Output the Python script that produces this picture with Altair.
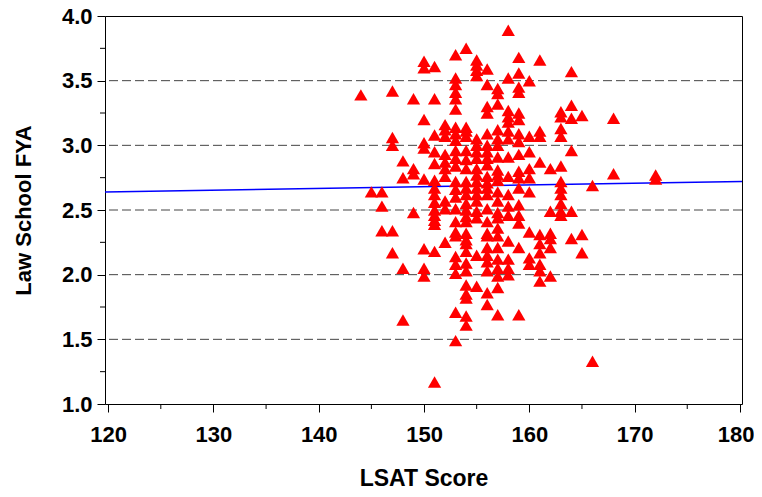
import altair as alt
import pandas as pd

# LSAT score columns and the FYA values for each
lsat_levels = [144, 145, 146, 147, 148, 149, 150, 151, 152, 153, 154, 155, 156,
               157, 158, 159, 160, 161, 162, 163, 164, 165, 166, 168, 172]
fya_groups = [
    [3.39],
    [2.64],
    [2.64, 2.53, 2.34],
    [3.42, 3.06, 3.00, 2.34, 2.17],
    [2.88, 2.75, 2.05, 1.65],
    [3.36, 2.82, 2.78, 2.48],
    [3.65, 3.60, 3.20, 3.02, 2.98, 2.74, 2.20, 2.05, 1.99],
    [3.61, 3.36, 3.08, 2.95, 2.86, 2.73, 2.67, 2.62, 2.56, 2.50, 2.46, 2.42, 2.39, 2.18, 1.17],
    [3.16, 3.12, 3.07, 2.93, 2.87, 2.82, 2.76, 2.57, 2.51, 2.25],
    [3.70, 3.52, 3.47, 3.41, 3.36, 3.28, 3.14, 3.09, 3.04, 2.96, 2.90, 2.84, 2.72, 2.66,
     2.60, 2.51, 2.41, 2.33, 2.30, 2.14, 2.08, 2.01, 1.71, 1.49],
    [3.75, 3.14, 3.11, 3.07, 2.96, 2.89, 2.82, 2.72, 2.67, 2.62, 2.55, 2.50, 2.45, 2.41,
     2.32, 2.27, 2.24, 2.18, 2.09, 2.03, 1.92, 1.85, 1.82, 1.68, 1.61],
    [3.66, 3.62, 3.58, 3.54, 3.05, 3.00, 2.95, 2.90, 2.82, 2.77, 2.72, 2.67, 2.62, 2.57,
     2.49, 2.44, 2.15, 1.91],
    [3.59, 3.47, 3.30, 3.25, 3.09, 3.00, 2.95, 2.90, 2.85, 2.76, 2.71, 2.67, 2.62, 2.51,
     2.41, 2.32, 2.30, 2.21, 2.15, 2.10, 2.03, 1.86, 1.77],
    [3.44, 3.40, 3.32, 3.12, 3.05, 3.00, 2.91, 2.81, 2.77, 2.73, 2.64, 2.57, 2.48, 2.44,
     2.36, 2.30, 2.21, 2.12, 2.05, 1.99, 1.90, 1.69],
    [3.89, 3.52, 3.27, 3.22, 3.18, 3.11, 3.05, 2.91, 2.76, 2.62, 2.53, 2.46, 2.26, 2.12,
     2.05, 2.00],
    [3.68, 3.56, 3.45, 3.41, 3.25, 3.20, 3.09, 3.03, 2.93, 2.80, 2.75, 2.67, 2.54, 2.46,
     2.40, 2.21, 1.69],
    [3.50, 3.07, 2.95, 2.82, 2.75, 2.64, 2.33, 2.13, 2.08],
    [3.66, 3.11, 3.07, 2.87, 2.31, 2.24, 2.17, 2.08, 2.03, 1.95],
    [2.82, 2.49, 2.32, 2.28, 2.21, 1.99],
    [3.26, 3.22, 3.13, 3.07, 2.84, 2.72, 2.67, 2.62, 2.55, 2.49, 2.46],
    [3.57, 3.31, 3.21, 2.96, 2.49, 2.28],
    [3.23, 2.31, 2.17],
    [2.69, 1.33],
    [3.21, 2.78],
    [2.77, 2.74],
]

# fitted regression line (end values)
reg_lsat = [119.7, 180.2]
reg_fya = [2.639, 2.721]

x_ticks = [120, 130, 140, 150, 160, 170, 180]
x_minor = [125, 135, 145, 155, 165, 175]
y_ticks = [1.0, 1.5, 2.0, 2.5, 3.0, 3.5, 4.0]
y_minor = [1.25, 1.75, 2.25, 2.75, 3.25, 3.75]
grid_levels = [1.5, 2.0, 2.5, 3.0, 3.5]

W, H = 637, 388
FONT = "Liberation Sans, Arial, Helvetica, sans-serif"

pts = pd.DataFrame(
    [(x, y) for x, g in zip(lsat_levels, fya_groups) for y in g],
    columns=["lsat", "fya"],
)
reg = pd.DataFrame({"lsat": reg_lsat, "fya": reg_fya})
grid = pd.DataFrame({"fya": grid_levels})
xmin = pd.DataFrame({"lsat": x_minor})
ymin = pd.DataFrame({"fya": y_minor})

xscale = alt.Scale(domain=[119.7, 180.2], nice=False, zero=False)
yscale = alt.Scale(domain=[1.0, 4.0], nice=False, zero=False)

xaxis = alt.Axis(
    values=x_ticks, format="d", tickSize=8, tickColor="black", tickWidth=1,
    domain=False, grid=False, labelFont=FONT, labelFontSize=22, labelFontWeight="bold",
    labelColor="black", labelPadding=12, labelOverlap=False, labelFlush=False,
    labelAlign=alt.expr("datum.value == 180 ? 'right' : 'center'"),
    labelOffset=alt.expr("datum.value == 180 ? 14 : 0"),
    title="LSAT Score", titleFont=FONT, titleFontSize=23, titleFontWeight="bold",
    titleColor="black", titleBaseline="alphabetic", titleY=81,
)
yaxis = alt.Axis(
    values=y_ticks, format=".1f", tickSize=8, tickColor="black", tickWidth=1,
    domain=False, grid=False, labelFont=FONT, labelFontSize=22, labelFontWeight="bold",
    labelColor="black", labelPadding=5, labelOverlap=False, labelFlush=False,
    title="Law School FYA", titleFont=FONT, titleFontSize=22, titleFontWeight="bold",
    titleColor="black", titleBaseline="alphabetic", titleX=-75, titleY=H / 2,
)

points = alt.Chart(pts).mark_point(
    shape="triangle-up", filled=True, color="#ff0000", size=175, opacity=1, strokeWidth=0
).encode(
    x=alt.X("lsat:Q", scale=xscale, axis=xaxis),
    y=alt.Y("fya:Q", scale=yscale, axis=yaxis),
)

gridlines = alt.Chart(grid).mark_rule(
    color="#444444", strokeWidth=1, strokeDash=[9, 4]
).encode(y=alt.Y("fya:Q", scale=yscale))

line = alt.Chart(reg).mark_line(color="#0000ff", strokeWidth=1.5, clip=True).encode(
    x=alt.X("lsat:Q", scale=xscale), y=alt.Y("fya:Q", scale=yscale)
)

xminor = alt.Chart(xmin).mark_rule(color="black", strokeWidth=1).encode(
    x=alt.X("lsat:Q", scale=xscale), y=alt.value(H), y2=alt.value(H + 5)
)
yminor = alt.Chart(ymin).mark_rule(color="black", strokeWidth=1).encode(
    y=alt.Y("fya:Q", scale=yscale), x=alt.value(0), x2=alt.value(-5)
)

chart = alt.layer(gridlines, line, points, xminor, yminor).properties(
    width=W, height=H,
    padding={"left": 97, "top": 8, "right": 12, "bottom": 85},
    autosize=alt.AutoSizeParams(type="none"),
    background="white",
).configure_view(stroke="black", strokeWidth=1)

chart.save("out.html", embed_options={"renderer": "svg", "actions": False})
